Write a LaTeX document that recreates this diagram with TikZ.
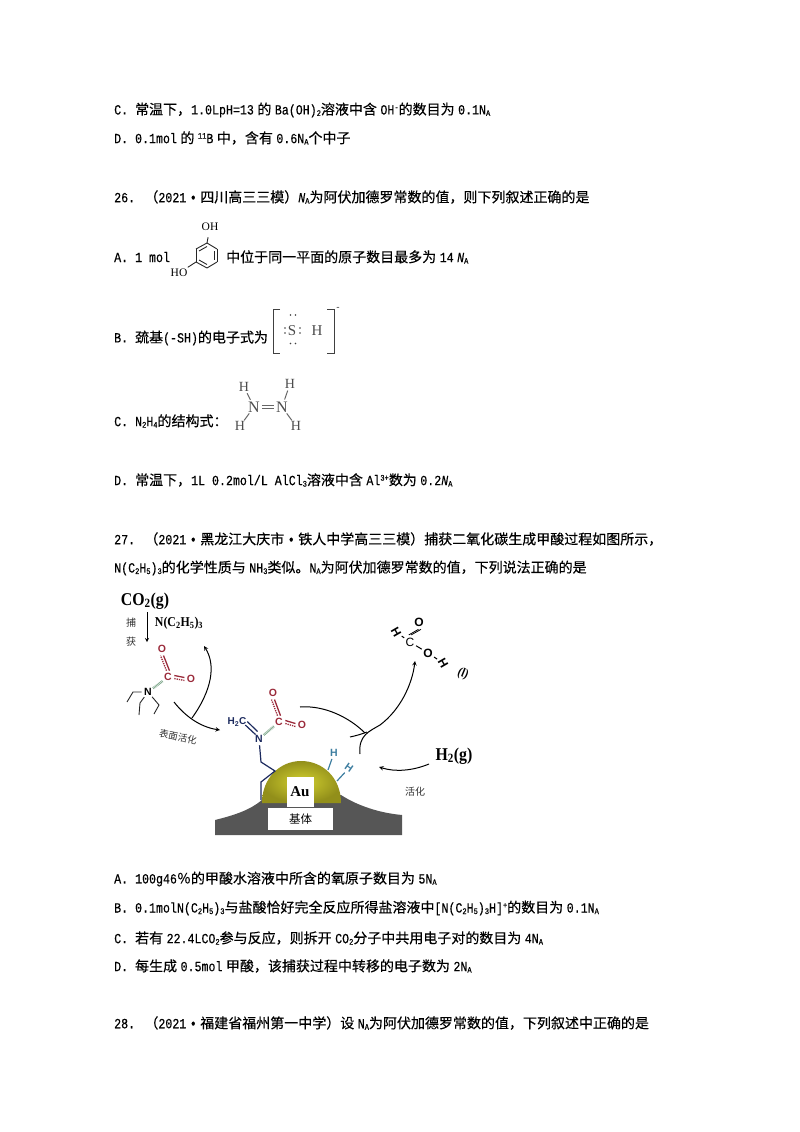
\documentclass[tikz,border=0pt]{standalone}
\usepackage{fontspec}
\setmainfont[FakeBold=0.35]{Noto Sans CJK SC}
\newfontfamily\latmono[FakeBold=0.35,FakeStretch=0.83]{Liberation Mono}
\newfontfamily\figsans{Liberation Sans}
\newfontfamily\figserif{Liberation Serif}
\newfontfamily\figcjk{Noto Sans CJK SC}
\definecolor{redatom}{HTML}{9A2A3A}
\definecolor{navyatom}{HTML}{1C2A5E}
\definecolor{greenb}{HTML}{7FA88C}
\definecolor{tealb}{HTML}{3E7EA0}
\definecolor{groundc}{HTML}{565656}
\definecolor{goldin}{HTML}{D2D030}
\definecolor{goldout}{HTML}{928F1A}
\newcommand{\lat}[1]{{\latmono #1}}
\newcommand{\lo}[1]{\raisebox{-1.5pt}{\latmono\fontsize{8.5}{8.5}\selectfont #1}}
\newcommand{\hi}[1]{\raisebox{4.5pt}{\latmono\fontsize{8.5}{8.5}\selectfont #1}}
\newcommand{\NA}{\lat{N}\lo{A}}
\newcommand{\NAit}{{\latmono\itshape N}\lo{A}}
\newcommand{\gap}{\kern3.5pt}
\tikzstyle{txtline}=[anchor=west,inner sep=0pt,font=\fontsize{14}{14}\selectfont]
\tikzstyle{atomred}=[circle,inner sep=0.6pt,text=redatom,font=\figsans\bfseries\fontsize{10.5}{10.5}\selectfont]
\tikzstyle{atomblue}=[circle,inner sep=0.6pt,text=navyatom,font=\figsans\bfseries\fontsize{10.5}{10.5}\selectfont]
\tikzstyle{atomgray}=[circle,inner sep=0pt,text=black!70,font=\figserif\fontsize{14}{14}\selectfont]
\tikzstyle{atomblack}=[circle,inner sep=0.8pt,font=\figserif\fontsize{11.5}{11.5}\selectfont]
\tikzstyle{figlabel}=[inner sep=0pt,xscale=0.88,font=\figserif\bfseries\fontsize{18}{18}\selectfont]
\tikzstyle{figcn}=[inner sep=0pt,text=black!80,font=\figcjk\fontsize{10}{10}\selectfont]
\tikzstyle{redbond}=[line width=1.3pt,redatom]
\tikzstyle{dotbond}=[line width=1.3pt,redatom,dash pattern=on 1.3pt off 1pt]
\tikzstyle{greenbond}=[line width=2.4pt,greenb,dash pattern=on 0.7pt off 0.7pt]
\tikzstyle{chain}=[line width=0.9pt,black!85]
\tikzstyle{navychain}=[line width=1.2pt,navyatom]
\tikzstyle{hbond}=[line width=1.2pt,tealb]
\tikzstyle{graybond}=[line width=1pt,black!60]
\tikzstyle{curvearrow}=[line width=1pt,-stealth]

\begin{document}
\begin{tikzpicture}[x=1pt,y=-1pt]
    \useasboundingbox (0,0) rectangle (800,1132);

    % text of the page
    \node[txtline] (l1) at (114,110) {\lat{C. }常温下，\lat{1.0LpH=13}\gap 的\gap\lat{Ba(OH)}\lo{2}溶液中含\gap\lat{OH}\hi{-}的数目为\gap\lat{0.1}\NA};
    \node[txtline] (l2) at (114,138) {\lat{D. 0.1mol}\gap 的\gap\hi{11}\lat{B}\gap 中，含有\gap\lat{0.6}\NA 个中子};
    \node[txtline] (l3) at (114,197) {\lat{26. }（\lat{2021}\gap\lat{•}\gap 四川高三三模）\NAit 为阿伏加德罗常数的值，则下列叙述正确的是};
    \node[txtline] (l4) at (114,257) {\lat{A. 1 mol}};
    \node[txtline] (l4b) at (226,257) {中位于同一平面的原子数目最多为\gap\lat{14}\gap\NAit};
    \node[txtline] (l5) at (114,338) {\lat{B. }巯基\lat{(-SH)}的电子式为};
    \node[txtline] (l6) at (114,421) {\lat{C. N}\lo{2}\lat{H}\lo{4}的结构式：};
    \node[txtline] (l7) at (114,480) {\lat{D. }常温下，\lat{1L 0.2mol/L AlCl}\lo{3}溶液中含\gap\lat{Al}\hi{3+}数为\gap\lat{0.2}\NAit};
    \node[txtline] (l8) at (114,539) {\lat{27. }（\lat{2021}\gap\lat{•}\gap 黑龙江大庆市\gap\lat{•}\gap 铁人中学高三三模）捕获二氧化碳生成甲酸过程如图所示，};
    \node[txtline] (l9) at (114,568) {\lat{N(C}\lo{2}\lat{H}\lo{5}\lat{)}\lo{3}的化学性质与\gap\lat{NH}\lo{3}类似。\NA 为阿伏加德罗常数的值，下列说法正确的是};
    \node[txtline] (l10) at (114,879) {\lat{A. 100g46}％的甲酸水溶液中所含的氧原子数目为\gap\lat{5}\NA};
    \node[txtline] (l11) at (114,908) {\lat{B. 0.1molN(C}\lo{2}\lat{H}\lo{5}\lat{)}\lo{3}与盐酸恰好完全反应所得盐溶液中\lat{[N(C}\lo{2}\lat{H}\lo{5}\lat{)}\lo{3}\lat{H]}\hi{+}的数目为\gap\lat{0.1}\NA};
    \node[txtline] (l12) at (114,938) {\lat{C. }若有\gap\lat{22.4LCO}\lo{2}参与反应，则拆开\gap\lat{CO}\lo{2}分子中共用电子对的数目为\gap\lat{4}\NA};
    \node[txtline] (l13) at (114,966) {\lat{D. }每生成\gap\lat{0.5mol}\gap 甲酸，该捕获过程中转移的电子数为\gap\lat{2}\NA};
    \node[txtline] (l14) at (114,1023) {\lat{28. }（\lat{2021}\gap\lat{•}\gap 福建省福州第一中学）设\gap\NA 为阿伏加德罗常数的值，下列叙述中正确的是};

    % resorcinol
    \node[atomblack] (oh1) at (210,227) {OH};
    \node[atomblack] (oh2) at (179,273) {HO};
    \coordinate (r1) at (207,243);
    \coordinate (r2) at (217,249);
    \coordinate (r3) at (217,262);
    \coordinate (r4) at (207,268);
    \coordinate (r5) at (196,262);
    \coordinate (r6) at (196,249);
    \foreach \from/\to in {r1/r2,r2/r3,r3/r4,r4/r5,r5/r6,r6/r1,r1/oh1,r5/oh2}
    \draw[chain] (\from) -- (\to);
    \coordinate (i2) at (214,251);
    \coordinate (i3) at (214,260);
    \coordinate (i4) at (207,264.5);
    \coordinate (i5) at (199,260);
    \coordinate (i6) at (199,251);
    \coordinate (i1) at (207,246.5);
    \foreach \from/\to in {i2/i3,i4/i5,i6/i1}
    \draw[chain] (\from) -- (\to);

    % electron formula
    \node[atomgray,font=\figserif\fontsize{15}{15}\selectfont] (s1) at (292,331) {S};
    \node[atomgray,font=\figserif\fontsize{15}{15}\selectfont] (h1) at (317,331) {H};
    \node[inner sep=0pt,font=\figsans\fontsize{10}{10}\selectfont,text=black!75] (minus) at (338,309) {-};
    \coordinate (bl1) at (280,309);
    \coordinate (bl2) at (273.5,309);
    \coordinate (bl3) at (273.5,353);
    \coordinate (bl4) at (280,353);
    \coordinate (br1) at (327,309);
    \coordinate (br2) at (334,309);
    \coordinate (br3) at (334,353);
    \coordinate (br4) at (327,353);
    \draw[line width=0.9pt,black!75] (bl1) -- (bl2) -- (bl3) -- (bl4);
    \draw[line width=0.9pt,black!75] (br1) -- (br2) -- (br3) -- (br4);
    \foreach \dotx/\doty in {290.5/315,295.5/315,290.5/343.5,295.5/343.5,285/328,285/333,300/328,300/333}
    \fill[black!75] (\dotx,\doty) circle (0.9pt);

    % N2H4
    \node[atomgray,font=\figserif\fontsize{16}{16}\selectfont] (n1) at (254,407) {N};
    \node[atomgray,font=\figserif\fontsize{16}{16}\selectfont] (n2) at (282,407) {N};
    \node[atomgray] (h2) at (244,387) {H};
    \node[atomgray] (h3) at (290,384) {H};
    \node[atomgray] (h4) at (240,426) {H};
    \node[atomgray] (h5) at (296,426) {H};
    \foreach \from/\to in {n1/h2,n1/h4,n2/h3,n2/h5}
    \draw[graybond] (\from) -- (\to);
    \draw[graybond] ([yshift=1.5pt]n1.east) -- ([yshift=1.5pt]n2.west);
    \draw[graybond] ([yshift=-1.5pt]n1.east) -- ([yshift=-1.5pt]n2.west);

    % surface with gold particle
    \fill[groundc] (215,835) -- (215,820) .. controls (235,815) and (250,810) .. (262,800) -- (341,795) .. controls (358,806) and (380,813) .. (402,815) -- (402,835) -- cycle;
    \shade[inner color=goldin,outer color=goldout] (262,803) .. controls (262,778) and (280,761) .. (301,761) .. controls (323,761) and (341,778) .. (341,803) -- cycle;
    \node[fill=white,minimum width=27pt,minimum height=30pt,inner sep=0pt,font=\figserif\bfseries\fontsize{15}{15}\selectfont] (au) at (300,792) {Au};
    \node[fill=white,minimum width=65pt,minimum height=22pt,inner sep=0pt,font=\figcjk\fontsize{11.5}{11.5}\selectfont] (base) at (300.5,819) {基体};

    % capture step
    \node[figlabel] (co2) at (145,601) {CO\textsubscript{2}(g)};
    \node[figcn] (bu) at (131,623) {捕};
    \node[figcn] (huo) at (131,642) {获};
    \node[figlabel,font=\figserif\bfseries\fontsize{13.5}{13.5}\selectfont] (amine) at (179,623) {N(C\textsubscript{2}H\textsubscript{5})\textsubscript{3}};
    \coordinate (capstart) at (147,612);
    \coordinate (capend) at (147,642);
    \draw[line width=0.8pt,-stealth] (capstart) -- (capend);

    \node[atomred] (c1) at (168,677) {C};
    \node[atomred] (o1) at (162,649) {O};
    \node[atomred] (o2) at (191,679) {O};
    \node[atomblue,text=black] (n3) at (148,692) {N};
    \draw[redbond] ([xshift=1.5pt]c1.north) -- ([xshift=1.5pt]o1.south);
    \draw[dotbond] ([xshift=-1.5pt]c1.north) -- ([xshift=-1.5pt]o1.south);
    \draw[redbond] ([yshift=1.5pt]c1.east) -- ([yshift=1.5pt]o2.west);
    \draw[dotbond] ([yshift=-1.5pt]c1.east) -- ([yshift=-1.5pt]o2.west);
    \draw[greenbond] (n3) -- (c1);
    \coordinate (e1) at (133,692);
    \coordinate (e2) at (127,702);
    \coordinate (e3) at (140,703);
    \coordinate (e4) at (139,715);
    \coordinate (e5) at (159,705);
    \coordinate (e6) at (154,714);
    \draw[chain] (n3) -- (e1) -- (e2);
    \draw[chain] (n3) -- (e3) -- (e4);
    \draw[chain] (n3) -- (e5) -- (e6);

    % activated species on the surface
    \node[atomblue,font=\figsans\bfseries\fontsize{10}{10}\selectfont] (h2c) at (237,722) {H\textsubscript{2}C};
    \node[atomblue] (n4) at (259,739) {N};
    \node[atomred] (c2) at (279,722) {C};
    \node[atomred] (o3) at (273,693) {O};
    \node[atomred] (o4) at (302,725) {O};
    \draw[redbond] ([xshift=1.5pt]c2.north) -- ([xshift=1.5pt]o3.south);
    \draw[dotbond] ([xshift=-1.5pt]c2.north) -- ([xshift=-1.5pt]o3.south);
    \draw[redbond] ([yshift=1.5pt]c2.east) -- ([yshift=1.5pt]o4.west);
    \draw[dotbond] ([yshift=-1.5pt]c2.east) -- ([yshift=-1.5pt]o4.west);
    \draw[greenbond] (n4) -- (c2);
    \draw[navychain] ([xshift=-1pt,yshift=0.5pt]h2c.east) -- ([xshift=3pt,yshift=3pt]n4.north west);
    \draw[navychain] ([xshift=-3pt,yshift=-3pt]h2c.east) -- ([xshift=1pt]n4.north west);
    \coordinate (a1) at (261,762);
    \coordinate (a2) at (275,771);
    \coordinate (a3) at (261,782);
    \coordinate (a4) at (261,800);
    \draw[navychain] (n4) -- (a1) -- (a2) -- (a3) -- (a4);

    \node[atomblue,text=tealb] (h6) at (334,753) {H};
    \node[atomblue,text=tealb,rotate=-35] (h7) at (349,768) {H};
    \coordinate (auh1) at (328,770);
    \coordinate (auh2) at (337,781);
    \draw[hbond] (h6) -- (auh1);
    \draw[hbond] (h7) -- (auh2);

    % formic acid
    \node[atomblue,text=black,font=\figsans\bfseries\fontsize{12}{12}\selectfont,rotate=-60] (h8) at (396,632) {H};
    \node[atomblue,text=black,font=\figsans\fontsize{12}{12}\selectfont] (c3) at (410,642) {C};
    \node[atomblue,text=black,font=\figsans\bfseries\fontsize{12}{12}\selectfont] (o5) at (419,622) {O};
    \node[atomblue,text=black,font=\figsans\bfseries\fontsize{12}{12}\selectfont] (o6) at (428,653) {O};
    \node[atomblue,text=black,font=\figsans\bfseries\fontsize{12}{12}\selectfont,rotate=-60] (h9) at (443,663) {H};
    \node[figlabel,font=\figserif\bfseries\itshape\fontsize{13}{13}\selectfont,rotate=-15] (liq) at (463,674) {(l)};
    \foreach \from/\to in {h8/c3,c3/o6,o6/h9}
    \draw[line width=1pt] (\from) -- (\to);
    \draw[line width=0.8pt] ([xshift=1.2pt]c3.north) -- ([xshift=2pt]o5.south);
    \draw[line width=0.8pt] ([xshift=-1.2pt]c3.north) -- ([xshift=-0.5pt]o5.south);

    % arrows and the rest of the labels
    \node[figcn,rotate=-12,font=\figcjk\fontsize{9.5}{9.5}\selectfont] (surf) at (178,737) {表面活化};
    \node[figlabel] (hgas) at (454,756) {H\textsubscript{2}(g)};
    \node[figcn] (act) at (415,792) {活化};

    \coordinate (c1from) at (192,718);
    \coordinate (c1to) at (204,646);
    \coordinate (c2from) at (174,702);
    \coordinate (c2to) at (220,730);
    \coordinate (c3from) at (429,764);
    \coordinate (c3to) at (379,767);
    \coordinate (c4from) at (300,707);
    \coordinate (c4to) at (365,733);
    \coordinate (c5from) at (360,754);
    \coordinate (c5to) at (415,661);
    \coordinate (c6from) at (350,737);
    \coordinate (c6to) at (367,732);
    \draw[curvearrow] (c1from) .. controls (212,690) and (216,665) .. (c1to);
    \draw[curvearrow] (c2from) .. controls (185,716) and (200,727) .. (c2to);
    \draw[curvearrow] (c3from) .. controls (412,771) and (395,772) .. (c3to);
    \draw[line width=1pt] (c4from) .. controls (325,705) and (350,718) .. (c4to);
    \draw[curvearrow] (c5from) .. controls (358,735) and (370,731) .. (380,725) .. controls (400,710) and (412,685) .. (c5to);
    \draw[line width=1pt] (c6from) .. controls (355,736) and (362,734) .. (c6to);
\end{tikzpicture}
\end{document}
